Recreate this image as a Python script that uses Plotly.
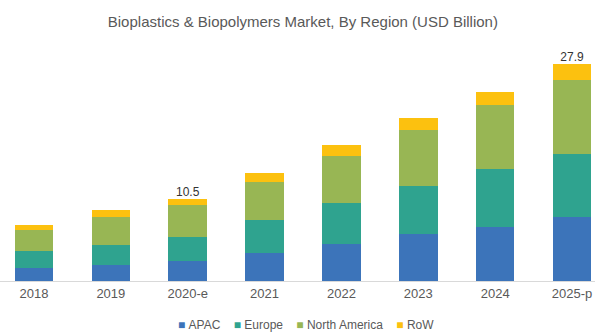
import plotly.graph_objects as go

years = ["2018", "2019", "2020-e", "2021", "2022", "2023", "2024", "2025-p"]
apac = [1.72, 2.06, 2.57, 3.56, 4.72, 6.09, 6.94, 8.23]
europe = [2.14, 2.62, 3.09, 4.28, 5.31, 6.08, 7.42, 8.14]
north_america = [2.74, 3.61, 4.07, 4.92, 6.09, 7.20, 8.22, 9.43]
row = [0.56, 0.86, 0.77, 1.16, 1.32, 1.58, 1.71, 2.10]
labelled = {"2020-e": "10.5", "2025-p": "27.9"}

series = [
    ("APAC", apac, "#3C74BA"),
    ("Europe", europe, "#2FA38F"),
    ("North America", north_america, "#98B654"),
    ("RoW", row, "#FCC10F"),
]

fig = go.Figure()
for name, vals, col in series:
    fig.add_trace(go.Bar(x=years, y=vals, name=name, marker=dict(color=col, line=dict(width=0)),
                         showlegend=False))

totals = [a + b + c + d for a, b, c, d in zip(apac, europe, north_america, row)]
lab_x = [y for y in years if y in labelled]
lab_y = [t for y, t in zip(years, totals) if y in labelled]
lab_t = [labelled[y] for y in lab_x]
fig.add_trace(go.Scatter(x=lab_x, y=lab_y, mode="text", text=lab_t, textposition="top center",
                         textfont=dict(family="Liberation Sans", size=12, color="#333333"),
                         showlegend=False, hoverinfo="skip"))

legend_html = "&nbsp;&nbsp;&nbsp;&nbsp;".join(
    f'<span style="color:{col}">■</span>&nbsp;{name}' for name, _, col in series)
fig.add_annotation(text=legend_html, xref="paper", yref="paper", x=0.515, y=-0.183,
                   xanchor="center", yanchor="middle", showarrow=False,
                   font=dict(family="Liberation Sans", size=12, color="#595959"))

fig.update_layout(
    width=595, height=334,
    margin=dict(l=0, r=0, t=40, b=53),
    barmode="stack", bargap=0.5,
    paper_bgcolor="white", plot_bgcolor="white",
    title=dict(text="Bioplastics & Biopolymers Market, By Region (USD Billion)",
               x=0.509, xanchor="center", y=0.935, yanchor="middle",
               font=dict(family="Liberation Sans", size=15, color="#595959")),
    xaxis=dict(range=[-0.442, 7.299], showline=True, linecolor="#D9D9D9", linewidth=1,
               ticks="", showgrid=False,
               tickfont=dict(family="Liberation Sans", size=13, color="#595959")),
    yaxis=dict(range=[0, 31], visible=False, showgrid=False, zeroline=False),
)

fig.write_html("out.html")
